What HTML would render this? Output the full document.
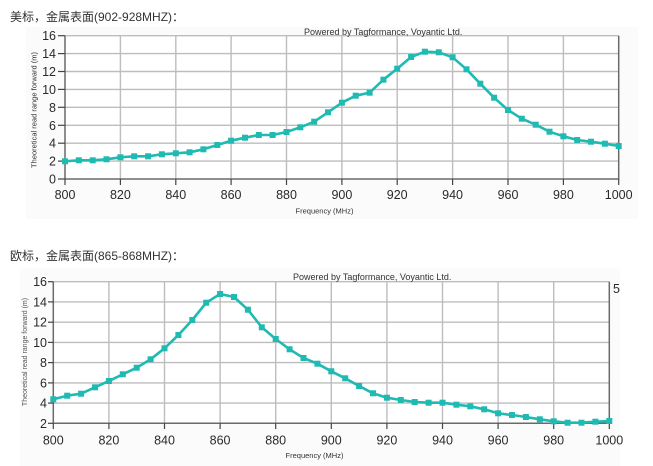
<!DOCTYPE html>
<html><head><meta charset="utf-8"><style>
html,body{margin:0;padding:0;background:#fff;width:653px;height:466px;overflow:hidden}
svg{display:block}
</style></head><body>
<svg width="653" height="466" viewBox="0 0 653 466" xmlns="http://www.w3.org/2000/svg" font-family="'Liberation Sans', 'Noto Sans CJK SC', sans-serif">
<rect x="26" y="27" width="612" height="192" fill="#fbfbfb"/>
<rect x="20" y="268" width="600" height="198" fill="#fbfbfb"/>
<text x="10" y="21" font-size="12" fill="#333">美标，金属表面(902-928MHZ)：</text>
<text x="10" y="260" font-size="12" fill="#333">欧标，金属表面(865-868MHZ)：</text>

<!-- TOP CHART -->
<rect x="65" y="35.7" width="553.7" height="143.3" fill="#fff"/>
<g stroke="#bdbdbd" stroke-width="1.4">
<line x1="65" x2="618.7" y1="161.1" y2="161.1"/><line x1="65" x2="618.7" y1="143.2" y2="143.2"/>
<line x1="65" x2="618.7" y1="125.3" y2="125.3"/><line x1="65" x2="618.7" y1="107.3" y2="107.3"/>
<line x1="65" x2="618.7" y1="89.4" y2="89.4"/><line x1="65" x2="618.7" y1="71.5" y2="71.5"/>
<line x1="65" x2="618.7" y1="53.6" y2="53.6"/><line x1="65" x2="618.7" y1="35.7" y2="35.7"/>
<line x1="120.4" x2="120.4" y1="35.7" y2="179"/><line x1="175.8" x2="175.8" y1="35.7" y2="179"/>
<line x1="231.1" x2="231.1" y1="35.7" y2="179"/><line x1="286.5" x2="286.5" y1="35.7" y2="179"/>
<line x1="341.9" x2="341.9" y1="35.7" y2="179"/><line x1="397.2" x2="397.2" y1="35.7" y2="179"/>
<line x1="452.6" x2="452.6" y1="35.7" y2="179"/><line x1="508" x2="508" y1="35.7" y2="179"/>
<line x1="563.4" x2="563.4" y1="35.7" y2="179"/>
</g>
<g stroke="#6a6a6a" stroke-width="1.5" fill="none">
<polyline points="65,35.7 65,179 618.7,179 618.7,35.7"/>
</g>
<g stroke="#444" stroke-width="1.2">
<line x1="58" x2="65" y1="179" y2="179"/><line x1="58" x2="65" y1="161.1" y2="161.1"/><line x1="58" x2="65" y1="143.2" y2="143.2"/>
<line x1="58" x2="65" y1="125.3" y2="125.3"/><line x1="58" x2="65" y1="107.3" y2="107.3"/><line x1="58" x2="65" y1="89.4" y2="89.4"/>
<line x1="58" x2="65" y1="71.5" y2="71.5"/><line x1="58" x2="65" y1="53.6" y2="53.6"/><line x1="58" x2="65" y1="35.7" y2="35.7"/>
<line x1="65" x2="65" y1="179" y2="185"/><line x1="120.4" x2="120.4" y1="179" y2="185"/><line x1="175.8" x2="175.8" y1="179" y2="185"/>
<line x1="231.1" x2="231.1" y1="179" y2="185"/><line x1="286.5" x2="286.5" y1="179" y2="185"/><line x1="341.9" x2="341.9" y1="179" y2="185"/>
<line x1="397.2" x2="397.2" y1="179" y2="185"/><line x1="452.6" x2="452.6" y1="179" y2="185"/><line x1="508" x2="508" y1="179" y2="185"/>
<line x1="563.4" x2="563.4" y1="179" y2="185"/><line x1="618.7" x2="618.7" y1="179" y2="185"/>
</g>
<g font-size="12.5" fill="#2a2a2a" text-anchor="end">
<text x="56" y="183.5">0</text><text x="56" y="165.6">2</text><text x="56" y="147.7">4</text><text x="56" y="129.8">6</text>
<text x="56" y="111.8">8</text><text x="56" y="93.9">10</text><text x="56" y="76">12</text><text x="56" y="58.1">14</text><text x="56" y="40.2">16</text>
</g>
<g font-size="12.5" fill="#2a2a2a" text-anchor="middle">
<text x="65" y="199">800</text><text x="120.4" y="199">820</text><text x="175.8" y="199">840</text><text x="231.1" y="199">860</text>
<text x="286.5" y="199">880</text><text x="341.9" y="199">900</text><text x="397.2" y="199">920</text><text x="452.6" y="199">940</text>
<text x="508" y="199">960</text><text x="563.4" y="199">980</text><text x="618.7" y="199">1000</text>
</g>
<text x="324.5" y="213.5" font-size="7.5" fill="#333" text-anchor="middle">Frequency (MHz)</text>
<text transform="translate(36.5,110) rotate(-90)" font-size="7.5" fill="#333" text-anchor="middle">Theoretical read range forward (m)</text>
<text x="304" y="35" font-size="9" fill="#333">Powered by Tagformance, Voyantic Ltd.</text>
<polyline fill="none" stroke="#1fbab2" stroke-width="2.6" stroke-linejoin="round" points="65,161.3 78.8,160.3 92.7,160.3 106.5,159.3 120.4,157.3 134.2,156.3 148.1,156.3 161.9,154.3 175.8,153.3 189.6,152.3 203.4,149.3 217.3,145 231.1,140.7 245,137.7 258.8,135 272.6,135 286.5,132 300.3,127.3 314.2,121.7 328,112.3 341.9,102.7 355.7,95.7 369.6,92.7 383.4,79.7 397.2,68.7 411.1,57 424.9,51.7 438.8,52.3 452.6,57.3 466.5,69.3 480.3,83.7 494.1,97.7 508,110 521.8,118.7 535.7,124.7 549.5,131.7 563.4,136.3 577.2,140 591,141.7 604.9,143.7 618.7,146"/>
<g fill="#1fbab2">
<rect x="62" y="158.3" width="6" height="6"/><rect x="75.8" y="157.3" width="6" height="6"/><rect x="89.7" y="157.3" width="6" height="6"/><rect x="103.5" y="156.3" width="6" height="6"/><rect x="117.4" y="154.3" width="6" height="6"/><rect x="131.2" y="153.3" width="6" height="6"/><rect x="145.1" y="153.3" width="6" height="6"/><rect x="158.9" y="151.3" width="6" height="6"/><rect x="172.8" y="150.3" width="6" height="6"/><rect x="186.6" y="149.3" width="6" height="6"/><rect x="200.4" y="146.3" width="6" height="6"/><rect x="214.3" y="142" width="6" height="6"/><rect x="228.1" y="137.7" width="6" height="6"/><rect x="242" y="134.7" width="6" height="6"/><rect x="255.8" y="132" width="6" height="6"/><rect x="269.6" y="132" width="6" height="6"/><rect x="283.5" y="129" width="6" height="6"/><rect x="297.3" y="124.3" width="6" height="6"/><rect x="311.2" y="118.7" width="6" height="6"/><rect x="325" y="109.3" width="6" height="6"/><rect x="338.9" y="99.7" width="6" height="6"/><rect x="352.7" y="92.7" width="6" height="6"/><rect x="366.6" y="89.7" width="6" height="6"/><rect x="380.4" y="76.7" width="6" height="6"/><rect x="394.2" y="65.7" width="6" height="6"/><rect x="408.1" y="54" width="6" height="6"/><rect x="421.9" y="48.7" width="6" height="6"/><rect x="435.8" y="49.3" width="6" height="6"/><rect x="449.6" y="54.3" width="6" height="6"/><rect x="463.5" y="66.3" width="6" height="6"/><rect x="477.3" y="80.7" width="6" height="6"/><rect x="491.1" y="94.7" width="6" height="6"/><rect x="505" y="107" width="6" height="6"/><rect x="518.8" y="115.7" width="6" height="6"/><rect x="532.7" y="121.7" width="6" height="6"/><rect x="546.5" y="128.7" width="6" height="6"/><rect x="560.4" y="133.3" width="6" height="6"/><rect x="574.2" y="137" width="6" height="6"/><rect x="588" y="138.7" width="6" height="6"/><rect x="601.9" y="140.7" width="6" height="6"/><rect x="615.7" y="143" width="6" height="6"/>
</g>

<!-- BOTTOM CHART -->
<rect x="53.3" y="281.7" width="556" height="141.6" fill="#fff"/>
<g stroke="#bdbdbd" stroke-width="1.4">
<line x1="53.3" x2="609.3" y1="403.1" y2="403.1"/><line x1="53.3" x2="609.3" y1="382.9" y2="382.9"/>
<line x1="53.3" x2="609.3" y1="362.6" y2="362.6"/><line x1="53.3" x2="609.3" y1="342.4" y2="342.4"/>
<line x1="53.3" x2="609.3" y1="322.2" y2="322.2"/><line x1="53.3" x2="609.3" y1="301.9" y2="301.9"/>
<line x1="53.3" x2="609.3" y1="281.7" y2="281.7"/>
<line x1="108.9" x2="108.9" y1="281.7" y2="423.3"/><line x1="164.5" x2="164.5" y1="281.7" y2="423.3"/>
<line x1="220.1" x2="220.1" y1="281.7" y2="423.3"/><line x1="275.7" x2="275.7" y1="281.7" y2="423.3"/>
<line x1="331.3" x2="331.3" y1="281.7" y2="423.3"/><line x1="386.9" x2="386.9" y1="281.7" y2="423.3"/>
<line x1="442.5" x2="442.5" y1="281.7" y2="423.3"/><line x1="498.1" x2="498.1" y1="281.7" y2="423.3"/>
<line x1="553.7" x2="553.7" y1="281.7" y2="423.3"/>
</g>
<g stroke="#6a6a6a" stroke-width="1.5" fill="none">
<polyline points="53.3,281.7 53.3,423.3 609.3,423.3 609.3,281.7"/>
</g>
<g stroke="#444" stroke-width="1.2">
<line x1="48" x2="53.3" y1="423.3" y2="423.3"/><line x1="48" x2="53.3" y1="403.1" y2="403.1"/><line x1="48" x2="53.3" y1="382.9" y2="382.9"/>
<line x1="48" x2="53.3" y1="362.6" y2="362.6"/><line x1="48" x2="53.3" y1="342.4" y2="342.4"/><line x1="48" x2="53.3" y1="322.2" y2="322.2"/>
<line x1="48" x2="53.3" y1="301.9" y2="301.9"/><line x1="48" x2="53.3" y1="281.7" y2="281.7"/>
<line x1="53.3" x2="53.3" y1="423.3" y2="429"/><line x1="108.9" x2="108.9" y1="423.3" y2="429"/><line x1="164.5" x2="164.5" y1="423.3" y2="429"/>
<line x1="220.1" x2="220.1" y1="423.3" y2="429"/><line x1="275.7" x2="275.7" y1="423.3" y2="429"/><line x1="331.3" x2="331.3" y1="423.3" y2="429"/>
<line x1="386.9" x2="386.9" y1="423.3" y2="429"/><line x1="442.5" x2="442.5" y1="423.3" y2="429"/><line x1="498.1" x2="498.1" y1="423.3" y2="429"/>
<line x1="553.7" x2="553.7" y1="423.3" y2="429"/><line x1="609.3" x2="609.3" y1="423.3" y2="429"/>
</g>
<g font-size="12.5" fill="#2a2a2a" text-anchor="end">
<text x="47" y="427.8">2</text><text x="47" y="407.6">4</text><text x="47" y="387.4">6</text><text x="47" y="367.1">8</text>
<text x="47" y="346.9">10</text><text x="47" y="326.7">12</text><text x="47" y="306.4">14</text><text x="47" y="286.2">16</text>
</g>
<g font-size="12.5" fill="#2a2a2a" text-anchor="middle">
<text x="53.3" y="444.5">800</text><text x="108.9" y="444.5">820</text><text x="164.5" y="444.5">840</text><text x="220.1" y="444.5">860</text>
<text x="275.7" y="444.5">880</text><text x="331.3" y="444.5">900</text><text x="386.9" y="444.5">920</text><text x="442.5" y="444.5">940</text>
<text x="498.1" y="444.5">960</text><text x="553.7" y="444.5">980</text><text x="609.3" y="444.5">1000</text>
</g>
<text x="314.5" y="458" font-size="7.5" fill="#333" text-anchor="middle">Frequency (MHz)</text>
<text transform="translate(27,352) rotate(-90)" font-size="7" fill="#555" text-anchor="middle">Theoretical read range forward (m)</text>
<text x="293" y="280" font-size="9" fill="#333">Powered by Tagformance, Voyantic Ltd.</text>
<text x="613" y="293" font-size="12.5" fill="#2a2a2a">5</text>
<polyline fill="none" stroke="#1fbab2" stroke-width="2.6" stroke-linejoin="round" points="53.3,399.3 67.2,395.7 81.1,393.7 95,387.3 108.9,381 122.8,374.3 136.7,367.7 150.6,359.3 164.5,348.3 178.4,335 192.3,320 206.2,302.7 220.1,294 234,297 247.9,309.7 261.8,327.3 275.7,339 289.6,349.3 303.5,358 317.4,363.7 331.3,371.3 345.2,378.3 359.1,386 373,393.3 386.9,397.7 400.8,400 414.7,402 428.6,402.7 442.5,402.7 456.4,404.7 470.3,406.3 484.2,409.3 498.1,413.3 512,415 525.9,417 539.8,419.3 553.7,421.3 567.6,422.7 581.5,422.7 595.4,421.7 609.3,421"/>
<g fill="#1fbab2">
<rect x="50.3" y="396.3" width="6" height="6"/><rect x="64.2" y="392.7" width="6" height="6"/><rect x="78.1" y="390.7" width="6" height="6"/><rect x="92" y="384.3" width="6" height="6"/><rect x="105.9" y="378" width="6" height="6"/><rect x="119.8" y="371.3" width="6" height="6"/><rect x="133.7" y="364.7" width="6" height="6"/><rect x="147.6" y="356.3" width="6" height="6"/><rect x="161.5" y="345.3" width="6" height="6"/><rect x="175.4" y="332" width="6" height="6"/><rect x="189.3" y="317" width="6" height="6"/><rect x="203.2" y="299.7" width="6" height="6"/><rect x="217.1" y="291" width="6" height="6"/><rect x="231" y="294" width="6" height="6"/><rect x="244.9" y="306.7" width="6" height="6"/><rect x="258.8" y="324.3" width="6" height="6"/><rect x="272.7" y="336" width="6" height="6"/><rect x="286.6" y="346.3" width="6" height="6"/><rect x="300.5" y="355" width="6" height="6"/><rect x="314.4" y="360.7" width="6" height="6"/><rect x="328.3" y="368.3" width="6" height="6"/><rect x="342.2" y="375.3" width="6" height="6"/><rect x="356.1" y="383" width="6" height="6"/><rect x="370" y="390.3" width="6" height="6"/><rect x="383.9" y="394.7" width="6" height="6"/><rect x="397.8" y="397" width="6" height="6"/><rect x="411.7" y="399" width="6" height="6"/><rect x="425.6" y="399.7" width="6" height="6"/><rect x="439.5" y="399.7" width="6" height="6"/><rect x="453.4" y="401.7" width="6" height="6"/><rect x="467.3" y="403.3" width="6" height="6"/><rect x="481.2" y="406.3" width="6" height="6"/><rect x="495.1" y="410.3" width="6" height="6"/><rect x="509" y="412" width="6" height="6"/><rect x="522.9" y="414" width="6" height="6"/><rect x="536.8" y="416.3" width="6" height="6"/><rect x="550.7" y="418.3" width="6" height="6"/><rect x="564.6" y="419.7" width="6" height="6"/><rect x="578.5" y="419.7" width="6" height="6"/><rect x="592.4" y="418.7" width="6" height="6"/><rect x="606.3" y="418" width="6" height="6"/>
</g>
</svg>
</body></html>
